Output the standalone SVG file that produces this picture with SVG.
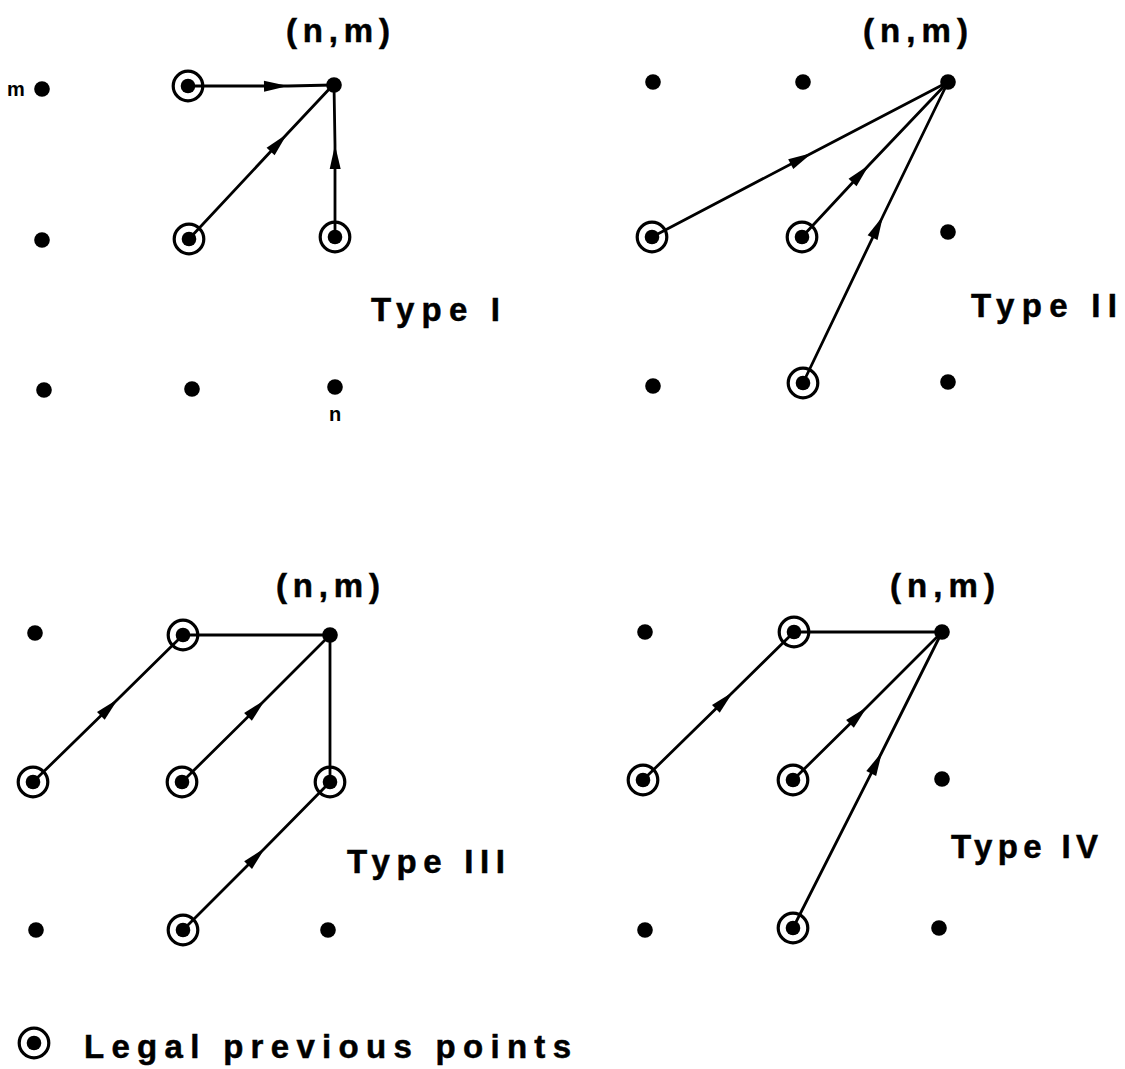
<svg xmlns="http://www.w3.org/2000/svg" width="1125" height="1069" viewBox="0 0 1125 1069">
<style>
.dot{fill:#000}
.ring{fill:none;stroke:#000;stroke-width:3.2}
.ln{fill:none;stroke:#000;stroke-width:2.8;stroke-linecap:round}
.lbl{font-family:"Liberation Sans",Arial,sans-serif;font-weight:bold;font-size:33px;fill:#000;stroke:#000;stroke-width:0.5}
.sm{font-family:"Liberation Sans",Arial,sans-serif;font-weight:bold;font-size:20px;fill:#000}
</style>
<defs>
<marker id="ah" markerUnits="userSpaceOnUse" markerWidth="30" markerHeight="14" refX="0" refY="0" viewBox="-26 -7 28 14" orient="auto" overflow="visible">
<path d="M-24,-5.5 L0,0 L-24,5.5 z" fill="#000"/>
</marker>
<g id="pt"><circle r="7.8" class="dot"/></g>
<g id="cp"><circle r="14.8" class="ring"/><circle r="7.3" class="dot"/></g>
</defs>
<rect width="1125" height="1069" fill="#fff"/>

<g id="connectors">
<!-- Type I -->
<path class="ln" d="M188,86 L288,86 L333,85" marker-mid="url(#ah)"/>
<path class="ln" d="M189,239 L287,134 L333,85" marker-mid="url(#ah)"/>
<path class="ln" d="M335,237 L335,145 L334,85" marker-mid="url(#ah)"/>
<!-- Type II -->
<path class="ln" d="M652,237 L812,153 L948,82" marker-mid="url(#ah)"/>
<path class="ln" d="M802,237 L869,165 L948,82" marker-mid="url(#ah)"/>
<path class="ln" d="M803,383 L883,216 L948,82" marker-mid="url(#ah)"/>
<!-- Type III -->
<path class="ln" d="M33,782 L118,699 L183,635" marker-mid="url(#ah)"/>
<path class="ln" d="M182,782 L265,700 L330,635" marker-mid="url(#ah)"/>
<path class="ln" d="M183,930 L265,848 L330,782" marker-mid="url(#ah)"/>
<path class="ln" d="M183,635 L330,635"/>
<path class="ln" d="M330,635 L330,782"/>
<!-- Type IV -->
<path class="ln" d="M643,780 L733,692 L794,632" marker-mid="url(#ah)"/>
<path class="ln" d="M793,780 L867,707 L942,632" marker-mid="url(#ah)"/>
<path class="ln" d="M793,928 L882,752 L942,632" marker-mid="url(#ah)"/>
<path class="ln" d="M794,632 L942,632"/>
</g>

<g id="panel1">
<g id="p1-r1c1"><use href="#pt" x="42" y="89"/></g>
<g id="p1-r1c2"><use href="#cp" x="188" y="86"/></g>
<g id="p1-target"><use href="#pt" x="334" y="85"/></g>
<g id="p1-r2c1"><use href="#pt" x="42" y="240"/></g>
<g id="p1-r2c2"><use href="#cp" x="189" y="239"/></g>
<g id="p1-r2c3"><use href="#cp" x="335" y="237"/></g>
<g id="p1-r3c1"><use href="#pt" x="44" y="390"/></g>
<g id="p1-r3c2"><use href="#pt" x="192" y="389"/></g>
<g id="p1-r3c3"><use href="#pt" x="335" y="387"/></g>
<text class="sm" x="7" y="96">m</text>
<text class="sm" x="335" y="421" text-anchor="middle">n</text>
<text class="lbl" x="286" y="42" textLength="104" lengthAdjust="spacing">(n,m)</text>
<text class="lbl" x="371" y="321" textLength="129" lengthAdjust="spacing">Type I</text>
</g>

<g id="panel2">
<g id="p2-r1c1"><use href="#pt" x="653" y="82"/></g>
<g id="p2-r1c2"><use href="#pt" x="803" y="82"/></g>
<g id="p2-target"><use href="#pt" x="948" y="82"/></g>
<g id="p2-r2c1"><use href="#cp" x="652" y="237"/></g>
<g id="p2-r2c2"><use href="#cp" x="802" y="237"/></g>
<g id="p2-r2c3"><use href="#pt" x="948" y="232"/></g>
<g id="p2-r3c1"><use href="#pt" x="653" y="386"/></g>
<g id="p2-r3c2"><use href="#cp" x="803" y="383"/></g>
<g id="p2-r3c3"><use href="#pt" x="948" y="382"/></g>
<text class="lbl" x="863" y="42" textLength="105" lengthAdjust="spacing">(n,m)</text>
<text class="lbl" x="971" y="317" textLength="146" lengthAdjust="spacing">Type II</text>
</g>

<g id="panel3">
<g id="p3-r1c1"><use href="#pt" x="35" y="633"/></g>
<g id="p3-r1c2"><use href="#cp" x="183" y="635"/></g>
<g id="p3-target"><use href="#pt" x="330" y="635"/></g>
<g id="p3-r2c1"><use href="#cp" x="33" y="782"/></g>
<g id="p3-r2c2"><use href="#cp" x="182" y="782"/></g>
<g id="p3-r2c3"><use href="#cp" x="330" y="782"/></g>
<g id="p3-r3c1"><use href="#pt" x="36" y="930"/></g>
<g id="p3-r3c2"><use href="#cp" x="183" y="930"/></g>
<g id="p3-r3c3"><use href="#pt" x="328" y="930"/></g>
<text class="lbl" x="276" y="597" textLength="104" lengthAdjust="spacing">(n,m)</text>
<text class="lbl" x="347" y="873" textLength="158" lengthAdjust="spacing">Type III</text>
</g>

<g id="panel4">
<g id="p4-r1c1"><use href="#pt" x="645" y="632"/></g>
<g id="p4-r1c2"><use href="#cp" x="794" y="632"/></g>
<g id="p4-target"><use href="#pt" x="942" y="632"/></g>
<g id="p4-r2c1"><use href="#cp" x="643" y="780"/></g>
<g id="p4-r2c2"><use href="#cp" x="793" y="780"/></g>
<g id="p4-r2c3"><use href="#pt" x="942" y="779"/></g>
<g id="p4-r3c1"><use href="#pt" x="645" y="930"/></g>
<g id="p4-r3c2"><use href="#cp" x="793" y="928"/></g>
<g id="p4-r3c3"><use href="#pt" x="939" y="928"/></g>
<text class="lbl" x="890" y="597" textLength="105" lengthAdjust="spacing">(n,m)</text>
<text class="lbl" x="951" y="858" textLength="147" lengthAdjust="spacing">Type IV</text>
</g>

<g id="legend">
<use href="#cp" x="34" y="1043"/>
<text class="lbl" x="84" y="1058" textLength="487" lengthAdjust="spacing">Legal previous points</text>
</g>
</svg>
